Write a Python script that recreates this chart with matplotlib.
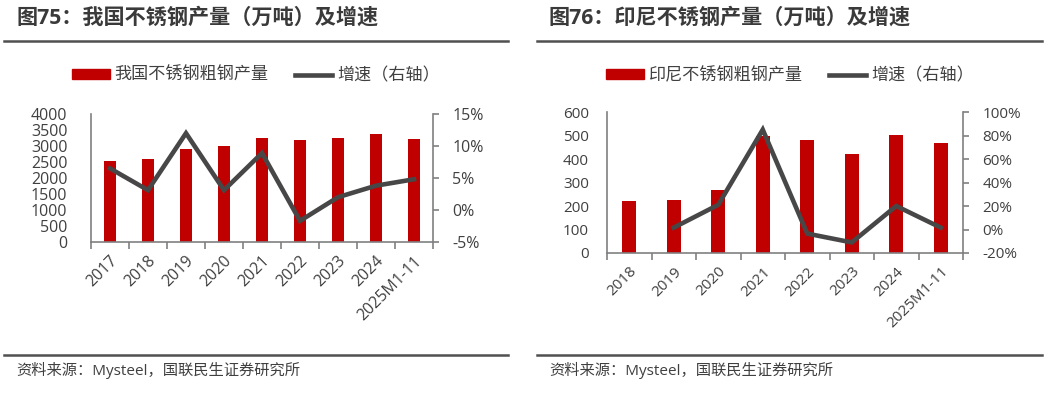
import numpy as np
import matplotlib.pyplot as plt
from matplotlib.patches import Patch
from matplotlib.lines import Line2D
from matplotlib.ticker import FuncFormatter, MultipleLocator

plt.rcParams['font.family'] = ['Open Sans', 'Noto Sans CJK SC', 'DejaVu Sans']

# China stainless crude steel output (10k t) and growth
cn_years = ['2017', '2018', '2019', '2020', '2021', '2022', '2023', '2024', '2025M1-11']
cn_output = [2530, 2595, 2905, 2990, 3240, 3190, 3240, 3375, 3220]
cn_growth = [6.5, 3.1, 12.0, 3.1, 8.9, -1.7, 2.0, 3.8, 4.8]

# Indonesia stainless crude steel output (10k t) and growth
id_years = ['2018', '2019', '2020', '2021', '2022', '2023', '2024', '2025M1-11']
id_output = [223, 224, 270, 496, 479, 423, 504, 467]
id_growth = [np.nan, 1.6, 21.0, 85.0, -3.5, -11.0, 20.0, 1.6]

BAR = '#C00000'
LINE = '#474747'
TXT = '#404040'
SPINE = '#808080'

fig = plt.figure(figsize=(10.52, 3.98), dpi=100)
W, H = 1052, 398


def px(x0, y0, x1, y1):
    return [x0 / W, 1 - y1 / H, (x1 - x0) / W, (y1 - y0) / H]


def panel(rect, years, output, growth, ylim, ystep, glim, gstep, lpad, fs):
    ax = fig.add_axes(rect)
    x = np.arange(len(years))
    ax.bar(x, output, width=0.32, color=BAR, zorder=2)
    ax.set_xlim(-0.5, len(years) - 0.5)
    ax.set_ylim(*ylim)
    ax.yaxis.set_major_locator(MultipleLocator(ystep))
    ax.set_xticks(x)
    ax.set_xticklabels(years, rotation=45, ha='right', va='top', rotation_mode='anchor',
                       fontsize=fs, color=TXT)
    ax.set_xticks(np.arange(len(years) + 1) - 0.5, minor=True)
    ax.tick_params(axis='x', which='major', length=0, pad=8)
    ax.tick_params(axis='x', which='minor', length=5, color=SPINE, width=1.2)
    ax.tick_params(axis='y', length=0, pad=lpad, labelsize=fs, labelcolor=TXT)
    for s in ['left', 'bottom']:
        ax.spines[s].set_color(SPINE)
        ax.spines[s].set_linewidth(1.2)
    ax.spines['top'].set_visible(False)
    ax.spines['right'].set_visible(False)

    ax2 = ax.twinx()
    ax2.plot(x, growth, color=LINE, lw=3.3, solid_joinstyle='miter', zorder=3)
    ax2.set_ylim(*glim)
    ax2.yaxis.set_major_locator(MultipleLocator(gstep))
    ax2.yaxis.set_major_formatter(FuncFormatter(lambda v, p: f'{v:.0f}%'))
    ax2.tick_params(axis='y', length=4, width=1.2, color=SPINE, pad=10,
                    labelsize=fs, labelcolor=TXT)
    ax2.spines['right'].set_color(SPINE)
    ax2.spines['right'].set_linewidth(1.2)
    for s in ['left', 'top', 'bottom']:
        ax2.spines[s].set_visible(False)
    return ax


panel(px(91, 114, 433, 242), cn_years, cn_output, cn_growth,
      (0, 4000), 500, (-5, 15), 5, 17, 11.5)
panel(px(607, 112, 963, 253), id_years, id_output, id_growth,
      (0, 600), 100, (-20, 100), 20, 13, 11)

# titles, rules, legends, sources
titles = ['图75：我国不锈钢产量（万吨）及增速', '图76：印尼不锈钢产量（万吨）及增速']
bar_names = ['我国不锈钢粗钢产量', '印尼不锈钢粗钢产量']
source = '资料来源：Mysteel，国联民生证券研究所'
for i, (x0, x1) in enumerate([(4, 508), (537, 1042)]):
    fig.text((x0 + 12) / W, 1 - 18 / H, titles[i], fontsize=15.2, fontweight='bold',
             color='#3a3a3a', va='center', ha='left')
    for yy in (40.5, 355):
        fig.add_artist(Line2D([x0 / W, x1 / W], [1 - yy / H, 1 - yy / H],
                              color='#505050', lw=1.8))
    fig.text((x0 + 12) / W, 1 - 370 / H, source, fontsize=11, color=TXT,
             va='center', ha='left')
    handles = [Patch(color=BAR), Line2D([], [], color=LINE, lw=3.3)]
    cx = (256 if i == 0 else 790) / W
    fig.legend(handles, [bar_names[i], '增速（右轴）'], loc='center',
               bbox_to_anchor=(cx, 1 - 76 / H), ncol=2, frameon=False,
               fontsize=12.3, labelcolor=TXT, handlelength=2.2, handleheight=0.55,
               handletextpad=0.3, columnspacing=1.5)

fig.savefig('out.png', dpi=100)
